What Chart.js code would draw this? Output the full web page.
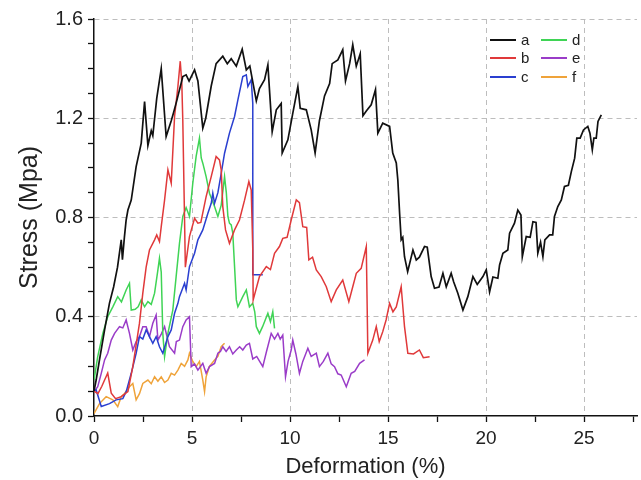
<!DOCTYPE html>
<html><head><meta charset="utf-8">
<script src="https://cdn.jsdelivr.net/npm/chart.js@4.4.1/dist/chart.umd.min.js"></script>
<style>html,body{margin:0;padding:0;background:#fff}canvas{display:block}</style>
</head><body>
<canvas id="c" width="641" height="480"></canvas>
<script>
const seriesLabels = ['a', 'b', 'c', 'd', 'e', 'f'];

const aX = [0,0.11,0.28,0.54,0.79,1.0,1.2,1.39,1.45,1.55,1.64,1.73,1.9,2.15,2.41,2.58,2.75,2.92,3.0,3.2,3.43,3.68,3.94,4.05,4.22,4.53,4.7,4.85,5.13,5.3,5.55,5.7,5.98,6.23,6.57,6.8,7.0,7.26,7.56,7.77,7.95,8.28,8.44,8.70,8.87,9.09,9.3,9.55,9.6,9.89,10.14,10.4,10.52,10.83,11.08,11.28,11.5,11.76,12.02,12.15,12.44,12.69,12.83,13.04,13.2,13.38,13.58,13.72,13.9,14.14,14.36,14.48,14.73,15.08,15.24,15.42,15.5,15.59,15.67,15.75,15.84,16.0,16.27,16.44,16.6,16.86,17.0,17.2,17.37,17.6,17.8,17.97,18.22,18.35,18.56,18.82,19.07,19.33,19.55,19.84,20.01,20.18,20.35,20.6,20.69,20.86,21.11,21.2,21.45,21.62,21.78,21.85,22.05,22.25,22.39,22.55,22.64,22.78,22.9,23.0,23.24,23.4,23.49,23.66,23.84,24.0,24.2,24.35,24.52,24.63,24.8,24.97,25.19,25.3,25.42,25.5,25.62,25.71,25.88];
const aY = [0.10,0.145,0.226,0.347,0.455,0.52,0.6,0.71,0.63,0.72,0.79,0.83,0.87,1.005,1.10,1.267,1.09,1.15,1.13,1.28,1.40,1.126,1.19,1.22,1.27,1.368,1.375,1.35,1.395,1.35,1.16,1.2,1.33,1.42,1.45,1.42,1.44,1.41,1.478,1.395,1.41,1.27,1.32,1.355,1.415,1.146,1.234,1.26,1.06,1.113,1.22,1.328,1.24,1.234,1.153,1.06,1.19,1.29,1.34,1.42,1.435,1.476,1.35,1.42,1.496,1.41,1.46,1.21,1.23,1.254,1.315,1.14,1.18,1.167,1.06,1.02,0.95,0.817,0.71,0.72,0.642,0.582,0.669,0.629,0.64,0.683,0.68,0.562,0.515,0.52,0.575,0.521,0.575,0.54,0.495,0.427,0.481,0.562,0.53,0.562,0.589,0.50,0.56,0.555,0.609,0.656,0.669,0.737,0.777,0.83,0.81,0.642,0.723,0.72,0.783,0.78,0.656,0.70,0.642,0.71,0.73,0.73,0.804,0.844,0.871,0.925,0.93,0.985,1.039,1.12,1.12,1.153,1.167,1.14,1.073,1.12,1.12,1.187,1.214];

const bX = [0,0.2,0.4,0.54,0.7,0.88,1.1,1.39,1.73,1.98,2.32,2.49,2.66,2.83,3.09,3.2,3.34,3.43,3.6,3.77,3.94,4.11,4.28,4.4,4.48,4.53,4.62,4.66,4.87,5.13,5.3,5.45,5.72,5.98,6.23,6.4,6.49,6.57,6.71,6.91,7.17,7.42,7.68,7.9,8.02,8.1,8.12,8.44,8.79,9.0,9.21,9.46,9.63,9.85,10.06,10.32,10.48,10.65,10.85,10.96,11.15,11.34,11.59,11.85,12.1,12.36,12.69,13.0,13.2,13.38,13.63,13.89,13.97,14.22,14.4,14.55,14.73,14.9,15.08,15.25,15.42,15.67,15.84,16.01,16.3,16.6,16.8,17.12];
const bY = [0.10,0.09,0.12,0.145,0.173,0.092,0.07,0.078,0.098,0.199,0.374,0.495,0.6,0.669,0.71,0.73,0.703,0.763,0.87,0.992,0.938,1.207,1.328,1.43,1.34,1.19,0.79,0.6,0.723,0.797,0.777,0.78,0.884,0.965,1.046,1.032,0.992,0.844,0.75,0.696,0.75,0.79,0.87,0.945,0.911,0.67,0.468,0.562,0.602,0.59,0.656,0.683,0.716,0.72,0.79,0.871,0.86,0.763,0.76,0.629,0.64,0.589,0.562,0.521,0.461,0.508,0.548,0.461,0.521,0.575,0.595,0.683,0.253,0.306,0.36,0.3,0.34,0.387,0.454,0.42,0.44,0.521,0.36,0.253,0.25,0.266,0.235,0.239];

const cX = [0,0.11,0.37,0.79,1.13,1.47,1.65,1.9,2.15,2.32,2.49,2.66,2.83,3.0,3.17,3.34,3.51,3.77,3.94,4.11,4.28,4.36,4.62,4.7,4.87,5.13,5.3,5.55,5.81,5.98,6.06,6.15,6.32,6.49,6.66,6.91,7.17,7.34,7.59,7.77,7.85,8.02,8.1,8.1,8.61];
const cY = [0.10,0.105,0.038,0.05,0.065,0.07,0.1,0.172,0.253,0.32,0.31,0.347,0.32,0.293,0.32,0.279,0.253,0.32,0.347,0.414,0.454,0.481,0.535,0.508,0.602,0.656,0.71,0.75,0.817,0.857,0.898,0.857,0.9,0.978,1.059,1.14,1.207,1.274,1.368,1.375,1.328,1.355,1.26,0.569,0.569];

const dX = [0,0.19,0.45,0.7,0.96,1.21,1.4,1.64,1.81,1.9,2.1,2.25,2.41,2.58,2.75,2.92,3.09,3.26,3.34,3.43,3.51,3.6,3.77,4.02,4.19,4.36,4.53,4.7,4.87,5.04,5.21,5.38,5.47,5.55,5.72,5.89,6.15,6.32,6.49,6.66,6.75,6.83,6.91,7.0,7.08,7.26,7.34,7.59,7.77,7.93,8.1,8.2,8.28,8.44,8.6,8.87,9.0,9.12,9.21];
const dY = [0.145,0.239,0.333,0.4,0.44,0.481,0.46,0.508,0.535,0.427,0.43,0.44,0.468,0.44,0.461,0.45,0.495,0.589,0.636,0.58,0.333,0.239,0.333,0.427,0.562,0.696,0.804,0.84,0.804,0.938,1.046,1.12,1.04,1.019,0.965,0.898,0.844,0.804,0.85,0.965,0.9,0.804,0.777,0.77,0.737,0.468,0.44,0.481,0.508,0.44,0.454,0.42,0.36,0.333,0.36,0.414,0.38,0.42,0.353];

const eX = [0,0.19,0.37,0.54,0.7,0.88,1.05,1.3,1.47,1.64,1.81,1.98,2.15,2.32,2.49,2.66,2.83,3.0,3.17,3.26,3.43,3.6,3.85,4.11,4.2,4.36,4.53,4.7,4.87,4.96,5.13,5.3,5.55,5.72,5.89,6.15,6.32,6.45,6.57,6.74,6.91,7.08,7.26,7.43,7.59,7.77,7.93,8.1,8.3,8.45,8.61,8.8,9.04,9.21,9.38,9.5,9.63,9.77,9.9,10.06,10.14,10.3,10.48,10.65,10.91,11.08,11.34,11.5,11.7,11.93,12.1,12.27,12.44,12.61,12.87,13.12,13.3,13.55,13.8];
const eY = [0.098,0.118,0.172,0.226,0.253,0.306,0.333,0.36,0.355,0.387,0.333,0.266,0.3,0.32,0.36,0.36,0.32,0.374,0.407,0.306,0.33,0.36,0.279,0.253,0.3,0.306,0.36,0.387,0.4,0.199,0.21,0.185,0.212,0.172,0.199,0.212,0.253,0.26,0.279,0.26,0.279,0.25,0.266,0.279,0.266,0.286,0.293,0.23,0.24,0.22,0.199,0.26,0.333,0.31,0.333,0.31,0.326,0.158,0.22,0.266,0.306,0.25,0.172,0.22,0.273,0.24,0.253,0.199,0.22,0.253,0.21,0.199,0.17,0.165,0.118,0.172,0.18,0.212,0.226];

const fX = [0,0.28,0.62,0.96,1.21,1.39,1.56,1.81,1.98,2.15,2.32,2.49,2.75,2.92,3.09,3.26,3.43,3.6,3.77,3.94,4.11,4.28,4.45,4.62,4.79,4.87,5.04,5.21,5.38,5.55,5.64,5.72,5.89,6.15,6.32,6.49,6.66];
const fY = [0.01,0.05,0.078,0.065,0.038,0.078,0.091,0.118,0.131,0.065,0.09,0.131,0.145,0.13,0.158,0.14,0.158,0.135,0.145,0.172,0.165,0.185,0.212,0.2,0.226,0.253,0.22,0.199,0.22,0.145,0.098,0.158,0.2,0.226,0.24,0.279,0.293];

const seriesColors = ['#111111', '#e0393a', '#2a3fd0', '#3fd455', '#9a3cc8', '#efa33a'];

const xTickValues = [0, 2.5, 5, 7.5, 10, 12.5, 15, 17.5, 20, 22.5, 25, 27.5];
const xMajorTicks = [0, 5, 10, 15, 20, 25];
const yTickValues = [0, 0.1, 0.2, 0.3, 0.4, 0.5, 0.6, 0.7, 0.8, 0.9, 1.0, 1.1, 1.2, 1.3, 1.4, 1.5, 1.6];
const yMajorTicks = [0, 0.4, 0.8, 1.2, 1.6];

const allX = [aX, bX, cX, dX, eX, fX];
const allY = [aY, bY, cY, dY, eY, fY];

const datasets = seriesLabels.map((lab, i) => ({
  label: lab,
  data: allX[i].map((x, k) => ({x: x, y: allY[i][k]})),
  borderColor: seriesColors[i],
  backgroundColor: seriesColors[i],
  borderWidth: i === 0 ? 1.7 : 1.5,
  pointRadius: 0,
  tension: 0,
  fill: false
}));

const FONT = "'Liberation Sans', Arial, sans-serif";

const legendPlugin = {
  id: 'gridLegend',
  afterDatasetsDraw(chart) {
    const ctx = chart.ctx;
    const cols = [[0, 1, 2], [3, 4, 5]];
    const colX = [490, 541];
    const rowY = [40, 58, 77];
    ctx.save();
    ctx.font = '15px ' + FONT;
    ctx.textBaseline = 'middle';
    cols.forEach((col, ci) => {
      col.forEach((di, ri) => {
        const ds = chart.data.datasets[di];
        ctx.strokeStyle = ds.borderColor;
        ctx.lineWidth = 2;
        ctx.beginPath();
        ctx.moveTo(colX[ci], rowY[ri]);
        ctx.lineTo(colX[ci] + 26, rowY[ri]);
        ctx.stroke();
        ctx.fillStyle = '#222';
        ctx.fillText(ds.label, colX[ci] + 31, rowY[ri] + 1);
      });
    });
    ctx.restore();
  }
};

new Chart(document.getElementById('c'), {
  type: 'line',
  data: {datasets: datasets},
  plugins: [legendPlugin],
  options: {
    responsive: false,
    animation: false,
    layout: {padding: {top: 19, right: 4, left: 0, bottom: 0}},
    plugins: {legend: {display: false}, tooltip: {enabled: false}},
    scales: {
      x: {
        type: 'linear',
        min: 0,
        max: 27.7,
        afterBuildTicks: s => { s.ticks = xTickValues.map(v => ({value: v})); },
        afterFit: s => { s.height = 64; },
        ticks: {
          autoSkip: false, maxRotation: 0, padding: 5, color: '#222',
          font: {family: FONT, size: 19},
          callback: v => xMajorTicks.includes(v) ? String(v) : ''
        },
        grid: {
          color: c => (c.tick && xMajorTicks.includes(c.tick.value) && c.tick.value !== 0) ? '#bdbdbd' : 'rgba(0,0,0,0)',
          lineWidth: 1, tickColor: '#111', tickLength: 6, tickWidth: 1.3
        },
        border: {display: true, color: '#111', width: 1.5, dash: [5, 4]},
        title: {display: true, text: 'Deformation (%)', color: '#222', font: {family: FONT, size: 22}, padding: {top: 0, bottom: 0}}
      },
      y: {
        type: 'linear',
        min: 0,
        max: 1.6,
        afterBuildTicks: s => { s.ticks = yTickValues.map(v => ({value: v})); },
        afterFit: s => { s.width = 94; },
        ticks: {
          autoSkip: false, padding: 5, color: '#222',
          font: {family: FONT, size: 20},
          callback: v => yMajorTicks.includes(v) ? v.toFixed(1) : ''
        },
        grid: {
          color: c => (c.tick && yMajorTicks.includes(c.tick.value) && c.tick.value !== 0) ? '#bdbdbd' : 'rgba(0,0,0,0)',
          lineWidth: 1, tickColor: '#111', tickLength: 6, tickWidth: 1.3
        },
        border: {display: true, color: '#111', width: 1.5, dash: [5, 4]},
        title: {display: true, text: 'Stress (Mpa)', color: '#222', font: {family: FONT, size: 25}, padding: {top: 15, bottom: 0}}
      }
    }
  }
});
</script>
</body></html>
